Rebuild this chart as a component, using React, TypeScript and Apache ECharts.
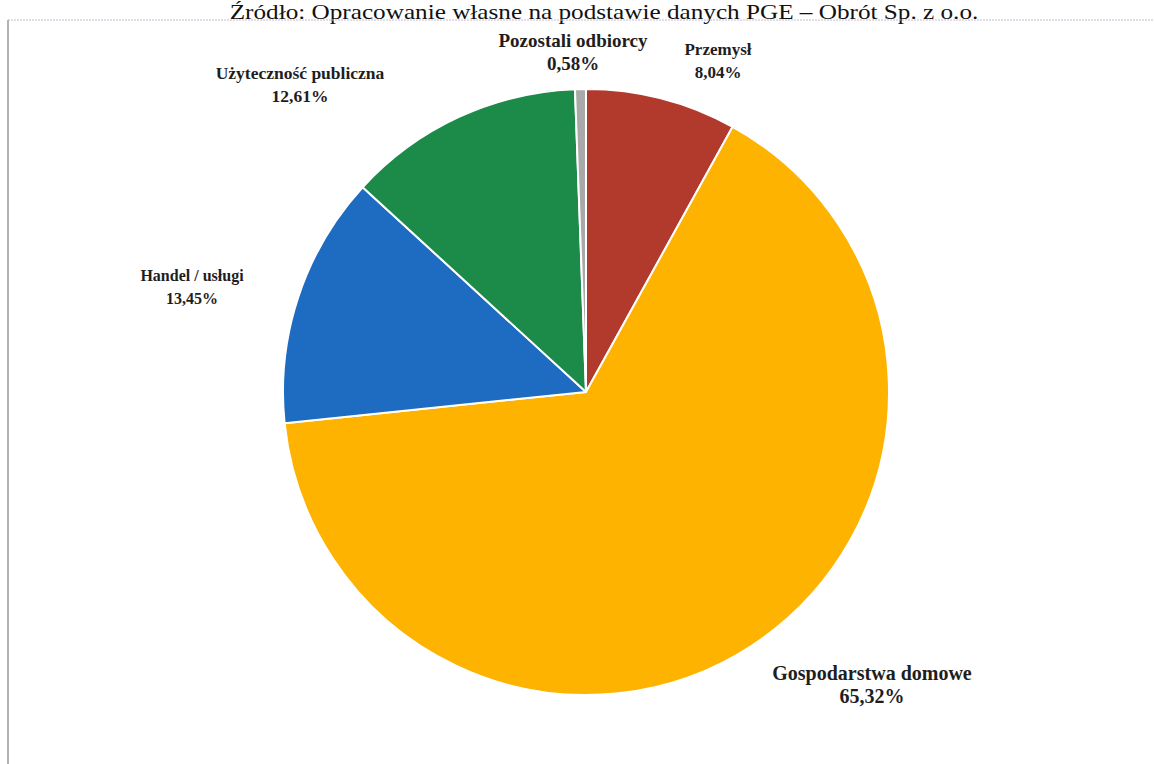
import React, { useEffect, useRef } from "react";
import * as echarts from "echarts";

const categories = [
  "Przemysł",
  "Gospodarstwa domowe",
  "Handel / usługi",
  "Użyteczność publiczna",
  "Pozostali odbiorcy",
];
const shares = [8.04, 65.32, 13.45, 12.61, 0.58];
const sliceColors = ["#b23a2c", "#fdb300", "#1d6cc2", "#1c8a48", "#a9a9a9"];
const labelPos: Record<string, [number, number]> = {
  "Przemysł": [718, 61],
  "Gospodarstwa domowe": [872, 684],
  "Handel / usługi": [192, 287],
  "Użyteczność publiczna": [300, 84],
  "Pozostali odbiorcy": [573, 52],
};
const labelSize: Record<string, number> = {
  "Przemysł": 17,
  "Gospodarstwa domowe": 20,
  "Handel / usługi": 16,
  "Użyteczność publiczna": 17.5,
  "Pozostali odbiorcy": 19,
};
const sourceText = "Źródło: Opracowanie własne na podstawie danych PGE – Obrót Sp. z o.o.";

export default function App() {
  const ref = useRef<HTMLDivElement>(null);
  useEffect(() => {
    if (!ref.current) return;
    const chart = echarts.init(ref.current, null, { renderer: "svg" });
    chart.setOption({
      animation: false,
      backgroundColor: "#ffffff",
      graphic: [
        {
          type: "text",
          x: 604,
          y: 1,
          scaleX: 1.2,
          style: {
            text: sourceText,
            font: "21px 'Liberation Serif'",
            fill: "#111",
            align: "center",
            verticalAlign: "top",
          },
        },
        {
          type: "line",
          shape: { x1: 8, y1: 20, x2: 1154, y2: 20 },
          style: { stroke: "#c8b8d0", lineWidth: 1, lineDash: [2, 1] },
        },
        {
          type: "line",
          shape: { x1: 8, y1: 20, x2: 8, y2: 764 },
          style: { stroke: "#9a9a9a", lineWidth: 1.5 },
        },
      ],
      series: [
        {
          type: "pie",
          center: [586, 392],
          radius: [0, 303],
          startAngle: 90,
          clockwise: true,
          data: categories.map((name, i) => ({
            name,
            value: shares[i],
            itemStyle: { color: sliceColors[i] },
            label: { fontSize: labelSize[name], lineHeight: 23 },
          })),
          itemStyle: { borderColor: "#ffffff", borderWidth: 2 },
          label: {
            show: true,
            formatter: (p: any) =>
              p.name + "\n" + p.value.toFixed(2).replace(".", ",") + "%",
            fontFamily: "'Liberation Serif'",
            fontWeight: "bold",
            fontSize: 17,
            lineHeight: 23,
            color: "#1e1e1e",
            align: "center",
          },
          labelLine: { show: false },
          labelLayout: (params: any) => {
            const name = categories[params.dataIndex];
            const pos = labelPos[name];
            return { x: pos[0], y: pos[1], align: "center", verticalAlign: "middle" };
          },
          emphasis: { disabled: true },
        },
      ],
    });
    return () => chart.dispose();
  }, []);
  return (
    <div
      ref={ref}
      style={{ position: "fixed", left: 0, top: 0, width: 1154, height: 764 }}
    />
  );
}
